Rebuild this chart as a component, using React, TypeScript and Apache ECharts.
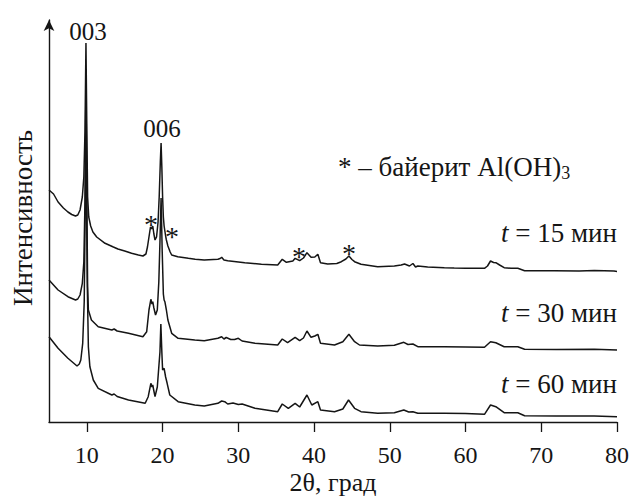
import React, { useEffect, useRef } from "react";
import * as echarts from "echarts";

// 2θ (deg) and intensity (arb. units, offset per curve)
const theta15 = [5.0, 5.6, 6.2, 6.9, 7.5, 8.0, 8.5, 8.8, 9.1, 9.4, 9.6, 9.75, 9.88, 10.0, 10.1, 10.25, 10.5, 10.8, 11.3, 12.4, 13.5, 14.1, 15.0, 15.9, 16.8, 17.4, 17.8, 18.0, 18.2, 18.4, 18.55, 18.7, 18.85, 19.0, 19.2, 19.4, 19.55, 19.7, 19.8, 19.9, 20.0, 20.1, 20.2, 20.4, 20.5, 20.7, 21.0, 21.2, 22.0, 23.4, 24.3, 25.5, 27.3, 27.6, 27.8, 28.1, 28.6, 30.85, 33.05, 35.2, 35.8, 36.35, 37.2, 37.5, 38.1, 38.6, 39.06, 39.6, 40.1, 40.5, 40.85, 41.8, 43.0, 43.6, 44.2, 44.6, 45.0, 45.35, 46.2, 48.4, 50.6, 51.5, 51.95, 52.6, 53.05, 53.4, 53.7, 55.0, 57.2, 58.5, 60.0, 62.5, 62.9, 63.3, 63.7, 64.0, 64.5, 65.1, 66.0, 66.9, 67.8, 70.0, 71.7, 75.0, 77.0, 79.6, 80.0];
const int15 = [232, 228, 220, 214, 210, 207.5, 206, 207, 212, 225, 245, 290, 379, 290, 225, 205, 196, 190, 185, 178.7, 175, 173, 171, 168.7, 167, 166, 168, 175, 185, 195, 193, 196, 188, 182, 185, 200, 225, 260, 279, 255, 225, 205, 196, 186, 182, 176, 170, 167, 165.3, 163.7, 162.7, 162, 162.7, 163.5, 164.7, 162, 161.3, 159.3, 157.7, 157, 162.7, 159.7, 161, 163.7, 161.3, 164, 169.3, 164.7, 165, 167.7, 159.3, 158, 158.5, 160.3, 163, 166, 162.5, 160.3, 157.7, 155.3, 156, 157, 158, 156, 158.5, 155, 156, 155, 154.3, 154, 153.8, 153.7, 156, 161, 159.5, 159.3, 157, 154.3, 153.7, 153.7, 151.3, 151.3, 151.3, 151, 151.5, 151, 150.5];

const theta30 = [5.0, 6.2, 7.5, 8.5, 8.8, 9.1, 9.4, 9.6, 9.75, 9.88, 10.0, 10.1, 10.2, 10.6, 11.5, 13.3, 13.6, 14.0, 15.5, 17.4, 17.9, 18.2, 18.45, 18.6, 18.7, 18.85, 19.07, 19.3, 19.5, 19.65, 19.8, 19.95, 20.1, 20.2, 20.3, 20.5, 20.7, 21.2, 22.05, 24.25, 25.5, 27.3, 27.8, 28.1, 28.4, 29.0, 29.5, 30.0, 30.5, 32.2, 35.2, 35.8, 36.5, 37.5, 38.1, 38.6, 39.06, 39.6, 40.1, 40.5, 40.85, 42.7, 43.8, 44.6, 45.35, 46.0, 48.4, 50.6, 51.85, 52.4, 53.05, 53.7, 57.2, 60.0, 62.5, 63.3, 64.0, 65.1, 66.9, 67.8, 72.0, 77.0, 80.0];
const int30 = [142, 132, 125.3, 122, 123, 127, 138.7, 160, 220, 342, 220, 135, 112, 102, 95.3, 92, 93, 91, 88.7, 85.3, 90.3, 112, 122.7, 118, 120.3, 114, 107, 112, 140, 180, 224, 170, 128, 122, 120.3, 112, 102, 88.7, 83.7, 82, 81.3, 83.7, 85.3, 83, 84.5, 82.5, 82.5, 83.7, 81, 78.7, 77, 83, 79.3, 84.7, 81.3, 84, 91, 84.7, 86, 87.7, 78.7, 77, 80.3, 87.7, 80.3, 77, 76, 76.7, 79.7, 77.5, 78, 75.3, 75.3, 75, 74.7, 80.3, 79.3, 75.3, 75.3, 72.7, 72.5, 72.7, 72];

const theta60 = [5.0, 6.2, 7.5, 8.7, 9.0, 9.2, 9.45, 9.65, 9.88, 10.05, 10.2, 10.4, 10.85, 11.5, 13.3, 13.6, 14.0, 15.5, 17.7, 18.1, 18.45, 18.6, 18.7, 18.85, 19.0, 19.3, 19.5, 19.65, 19.77, 19.9, 20.0, 20.2, 20.4, 20.6, 20.95, 22.05, 24.25, 25.5, 27.3, 27.8, 28.2, 28.6, 29.3, 30.0, 30.5, 32.2, 35.2, 35.8, 36.6, 37.5, 38.1, 39.06, 39.7, 40.5, 40.85, 42.7, 43.8, 44.55, 45.35, 46.2, 48.4, 50.6, 51.85, 52.5, 53.05, 53.7, 57.2, 60.0, 62.5, 63.3, 64.0, 65.1, 66.9, 67.8, 72.0, 77.0, 80.0];
const int60 = [85.3, 73.7, 63.7, 56, 58, 62, 78.7, 120, 287, 140, 75, 55.3, 42, 33.7, 27, 28, 25.5, 22, 18.7, 25.3, 38.7, 35, 37, 31, 25.3, 35, 55, 70, 98, 70, 52, 53.7, 45, 38.7, 27, 20.3, 17, 16, 18.7, 21, 20.3, 18, 19, 17.5, 18, 13.7, 10.3, 18, 13.7, 18.7, 15, 27, 17, 20.3, 12, 10.3, 13, 22, 13.7, 10.3, 8.7, 9.3, 12, 10, 10.3, 8.7, 8.7, 8.5, 7.7, 17, 15.3, 9.3, 9.3, 6.3, 6, 6, 5.3];

const xTicks = [10, 20, 30, 40, 50, 60, 70, 80];
const curveLabels = ["15", "30", "60"];

const FONT = '"Liberation Serif", serif';
const INK = "#151515";

function pairs(xs: number[], ys: number[]) {
  return xs.map((x, i) => [x, ys[i]]);
}

function txt(x: number, y: number, text: string, size: number, extra: any = {}) {
  return {
    type: "text", x, y, ...extra,
    style: { text, fontFamily: FONT, fontSize: size, fill: INK, align: "center", verticalAlign: "middle", ...(extra.style || {}) },
  };
}

export default function App() {
  const ref = useRef<HTMLDivElement>(null);
  useEffect(() => {
    if (!ref.current) return;
    const chart = echarts.init(ref.current, null, { renderer: "svg" });
    const series = [
      pairs(theta15, int15),
      pairs(theta30, int30),
      pairs(theta60, int60),
    ].map((d) => ({
      type: "line",
      data: d,
      showSymbol: false,
      symbol: "none",
      lineStyle: { color: INK, width: 1.5 },
      silent: true,
    }));
    const labelY = [233, 313, 384];
    const graphic: any[] = [
      txt(88, 31, "003", 25),
      txt(162, 128, "006", 25),
      txt(151, 224, "*", 28),
      txt(172, 236, "*", 28),
      txt(299, 256, "*", 28),
      txt(349, 253, "*", 28),
      {
        type: "text", x: 338, y: 167,
        style: {
          text: "{n|* – байерит Al(OH)}{s|3}",
          fill: INK, align: "left", verticalAlign: "middle",
          rich: {
            n: { fontFamily: FONT, fontSize: 27, fill: INK, lineHeight: 30 },
            s: { fontFamily: FONT, fontSize: 18, fill: INK, lineHeight: 30, verticalAlign: "bottom", padding: [12, 0, 0, 0] },
          },
        },
      },
      txt(23, 218, "Интенсивность", 27, { rotation: Math.PI / 2 }),
      txt(333, 482, "2θ, град", 26),
    ];
    curveLabels.forEach((t, i) => {
      graphic.push({
        type: "text", x: 617, y: labelY[i],
        style: {
          text: `{i|t}{n| = ${t} мин}`,
          fill: INK, align: "right", verticalAlign: "middle",
          rich: {
            i: { fontFamily: FONT, fontStyle: "italic", fontSize: 27, fill: INK },
            n: { fontFamily: FONT, fontSize: 27, fill: INK },
          },
        },
      });
    });

    chart.setOption({
      animation: false,
      backgroundColor: "#ffffff",
      grid: { left: 49, right: 14.5, top: 20, bottom: 75, containLabel: false },
      xAxis: {
        type: "value", min: 5, max: 80,
        axisLine: { show: true, lineStyle: { color: INK, width: 1.4 } },
        axisTick: { show: true, inside: false, length: 10, customValues: xTicks, lineStyle: { color: INK, width: 1.3 } },
        axisLabel: { show: true, customValues: xTicks, margin: 21, fontFamily: FONT, fontSize: 24, color: INK },
        splitLine: { show: false },
      },
      yAxis: {
        type: "value", min: 0, max: 402,
        axisLine: { show: true, symbol: ["none", "arrow"], symbolSize: [8, 11], lineStyle: { color: INK, width: 1.4 } },
        axisTick: { show: false },
        axisLabel: { show: false },
        splitLine: { show: false },
      },
      series,
      graphic,
    });
    return () => chart.dispose();
  }, []);
  return <div ref={ref} style={{ position: "absolute", left: 0, top: 0, width: 632, height: 497 }} />;
}
